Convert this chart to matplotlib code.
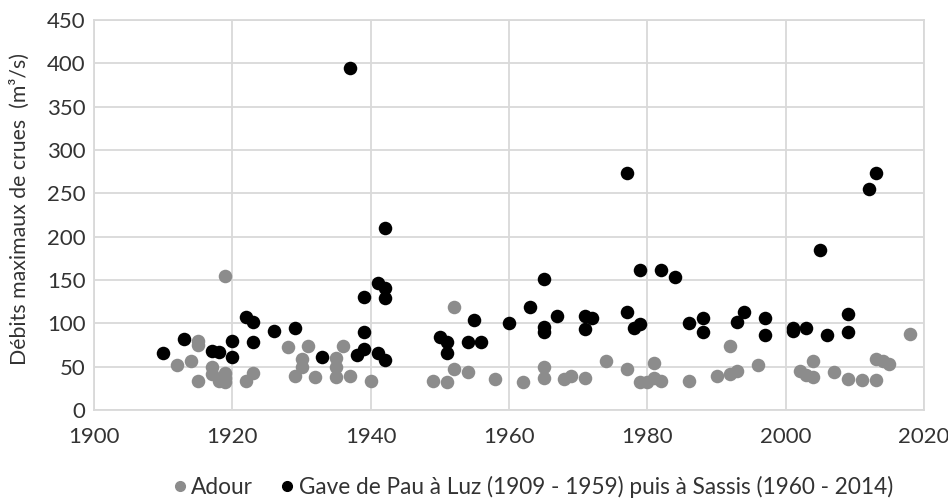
import matplotlib.pyplot as plt
from matplotlib.lines import Line2D

plt.rcParams['font.family'] = ['Lato', 'DejaVu Sans']

# Annual peak discharges (m3/s)
adour_years = [1912, 1914, 1915, 1915, 1915, 1917, 1917, 1918, 1919, 1919,
               1919, 1919, 1922, 1923, 1928, 1929, 1930, 1930, 1931, 1932,
               1935, 1935, 1935, 1936, 1937, 1940, 1949, 1951, 1952, 1952,
               1954, 1958, 1962, 1965, 1965, 1968, 1969, 1971, 1974, 1977,
               1979, 1980, 1981, 1981, 1982, 1986, 1990, 1992, 1992, 1993,
               1996, 2002, 2003, 2004, 2004, 2007, 2009, 2011, 2013, 2013,
               2014, 2015, 2018]
adour_flow = [52, 57, 80, 75, 34, 50, 41, 33, 155, 43,
              37, 32, 34, 43, 73, 39, 59, 50, 74, 38,
              60, 50, 38, 74, 39, 34, 34, 32, 119, 47,
              44, 36, 32, 50, 37, 36, 39, 37, 56, 47,
              32, 32, 54, 37, 34, 33, 39, 42, 74, 45,
              52, 45, 40, 38, 57, 44, 36, 35, 35, 59,
              56, 53, 88]

gave_years = [1910, 1913, 1917, 1918, 1920, 1920, 1922, 1923, 1923, 1926,
              1929, 1933, 1937, 1938, 1939, 1939, 1939, 1941, 1942, 1942,
              1942, 1941, 1942, 1950, 1951, 1951, 1954, 1955, 1956, 1960,
              1963, 1965, 1965, 1965, 1967, 1971, 1971, 1972, 1977, 1977,
              1978, 1979, 1979, 1982, 1984, 1986, 1988, 1988, 1993, 1994,
              1997, 1997, 2001, 2001, 2003, 2005, 2006, 2009, 2009, 2012,
              2013]
gave_flow = [66, 82, 68, 67, 80, 61, 107, 102, 78, 91,
             95, 61, 395, 64, 70, 90, 130, 146, 141, 129,
             210, 66, 58, 84, 79, 66, 78, 104, 78, 100,
             119, 151, 96, 90, 109, 108, 93, 106, 274, 113,
             95, 99, 161, 162, 154, 100, 106, 90, 102, 113,
             106, 87, 95, 91, 95, 185, 86, 111, 90, 255,
             274]

adour_label = "Adour"
gave_label = "Gave de Pau à Luz (1909 - 1959) puis à Sassis (1960 - 2014)"
grey = '#8c8c8c'
grid_col = '#d9d9d9'
text_col = '#333333'
fs = 16

fig = plt.figure(figsize=(9.48, 5.01), dpi=100)
ax = fig.add_axes([0.0992, 0.1816, 0.8755, 0.7785])

ax.scatter(adour_years, adour_flow, s=95, color=grey, linewidths=0, zorder=3)
ax.scatter(gave_years, gave_flow, s=95, color='black', linewidths=0, zorder=4)

ax.set_xlim(1900, 2020)
ax.set_ylim(0, 450)
ax.set_xticks(range(1900, 2021, 20))
ax.set_yticks(range(0, 451, 50))
ax.grid(True, color=grid_col, linewidth=1.3)
ax.set_axisbelow(True)
for sp in ax.spines.values():
    sp.set_color(grid_col)
    sp.set_linewidth(1.3)
ax.tick_params(length=0, labelsize=fs, labelcolor=text_col)
ax.tick_params(axis='x', pad=12)
ax.tick_params(axis='y', pad=6)
ax.set_ylabel("Débits maximaux de crues  (m³/s)", fontsize=15.3,
              color=text_col)
ax.yaxis.set_label_coords(-0.077, 0.515)

handles = [
    Line2D([], [], marker='o', linestyle='none', color=grey, markersize=7),
    Line2D([], [], marker='o', linestyle='none', color='black', markersize=7),
]
fig.legend(handles, [adour_label, gave_label], loc='lower center',
           bbox_to_anchor=(0.56, -0.035), ncol=2, frameon=False,
           fontsize=16.3, handletextpad=0.0, columnspacing=1.0,
           handlelength=1.0, labelcolor=text_col)

fig.savefig('out.png', dpi=100)
